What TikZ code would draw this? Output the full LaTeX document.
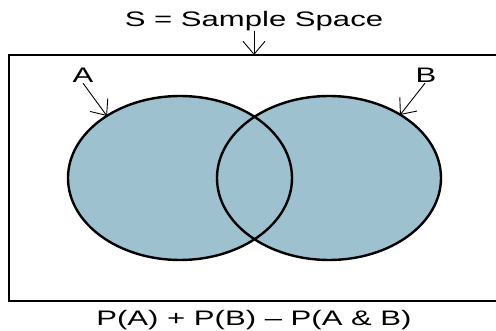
\documentclass[tikz,border=0pt]{standalone}
\usepackage{fontspec}
\setmainfont{Liberation Sans}
\usetikzlibrary{arrows.meta}
\definecolor{vennfill}{RGB}{157,193,206}
\newcommand{\wide}[1]{\scalebox{1.48}[1]{#1}}
\tikzset{
  lbl/.style={font=\fontsize{21}{25}\selectfont, inner sep=0pt, anchor=base},
  pointer/.style={line width=0.9pt, -{Straight Barb[length=13pt,width=22pt,line width=0.9pt]}},
  setedge/.style={draw=black, line width=2.4pt},
  frame/.style={draw=black, line width=2pt}
}
\begin{document}
\begin{tikzpicture}[x=1pt,y=-1pt]
\useasboundingbox (0,0) rectangle (496,331);
\fill[white] (0,0) rectangle (496,331);
% sample space frame
\draw[frame] (9,55) rectangle (505,301);
% sets
\fill[vennfill] (180,178) ellipse [x radius=112, y radius=82];
\fill[vennfill] (329,178) ellipse [x radius=112, y radius=82];
\draw[setedge] (180,178) ellipse [x radius=112, y radius=82];
\draw[setedge] (329,178) ellipse [x radius=112, y radius=82];
% labels
\node[lbl] (S) at (254,27) {\wide{S = Sample Space}};
\node[lbl] (A) at (83,83) {\wide{A}};
\node[lbl] (B) at (426,83) {\wide{B}};
\node[lbl] (F) at (254,326) {\wide{P(A) + P(B) – P(A \& B)}};
% pointer ends
\coordinate (Stip) at (254,55);
\coordinate (Atip) at (107,116);
\coordinate (Btip) at (400,115);
\draw[pointer] ([yshift=1pt]S.south) -- (Stip);
\draw[pointer] (A.south) -- (Atip);
\draw[pointer] ([xshift=-1pt]B.south) -- (Btip);
\end{tikzpicture}
\end{document}
